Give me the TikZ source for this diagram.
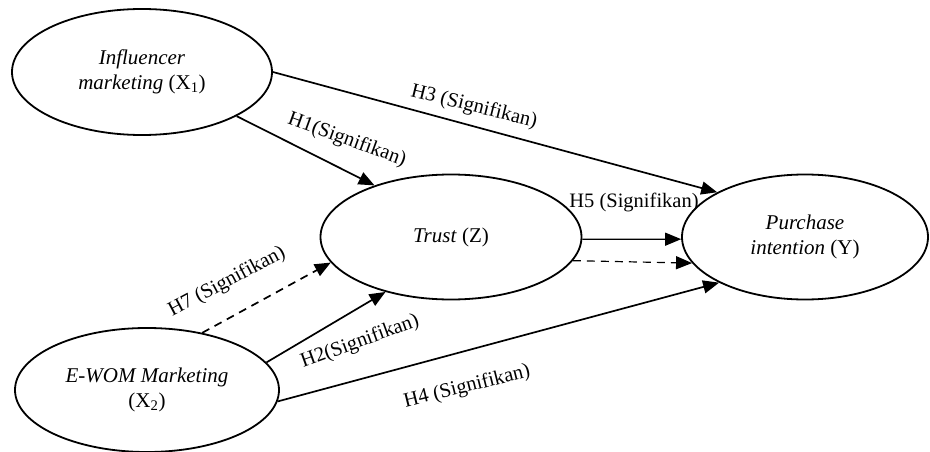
\documentclass[tikz,border=0pt]{standalone}
\usepackage{fontspec}
\setmainfont{Liberation Serif}
\usetikzlibrary{shapes.geometric,arrows.meta}

\tikzset{
  construct/.style={draw, ellipse, line width=1.8pt, inner sep=0pt, align=center,
    font=\fontsize{21}{25}\selectfont},
  causal/.style={line width=1.7pt, -{Triangle[length=16pt,width=13pt]}},
  thincausal/.style={causal, line width=1.2pt},
  indirect/.style={causal, dash pattern=on 8pt off 6pt},
  thinindirect/.style={indirect, line width=1.2pt},
  hyp/.style={font=\fontsize{20.5}{24}\selectfont, inner sep=0pt}
}

\begin{document}
\begin{tikzpicture}[x=1pt, y=-1pt]
\useasboundingbox (0,0) rectangle (930,452);

% constructs
\node[construct, minimum width=260pt, minimum height=126pt] (x1) at (142,72)
  {\textit{Influencer}\\\textit{marketing} (X\textsubscript{1})};
\node[construct, minimum width=261pt, minimum height=125pt] (z) at (451,237)
  {\textit{Trust} (Z)};
\node[construct, minimum width=246pt, minimum height=125pt] (y) at (805,237)
  {\textit{Purchase}\\\textit{intention} (Y)};
\node[construct, minimum width=264pt, minimum height=124pt] (x2) at (147,390)
  {\textit{E-WOM Marketing}\\(X\textsubscript{2})};

% direct paths
\draw[causal] (x1.0) -- (y.153);
\draw[causal] (x1.-25) -- (z.146);
\draw[thincausal] (z.-1) -- (y.181);
\draw[causal] (x2.13) -- (z.220);
\draw[causal] (x2.-5) -- (y.208);

% mediated paths
\draw[indirect] (x2.46) -- (z.192);
\draw[thinindirect] (z.-11) -- (y.193);

% hypothesis labels
\node[hyp, rotate=-14] (h3) at (474,107) {H3 (Signifikan)};
\node[hyp, rotate=-20] (h1) at (347,140) {H1(Signifikan)};
\node[hyp] (h5) at (634,202) {H5 (Signifikan)};
\node[hyp, rotate=28] (h7) at (227,282) {H7 (Signifikan)};
\node[hyp, rotate=20] (h2) at (360,342) {H2(Signifikan)};
\node[hyp, rotate=14] (h4) at (467,387) {H4 (Signifikan)};
\end{tikzpicture}
\end{document}
